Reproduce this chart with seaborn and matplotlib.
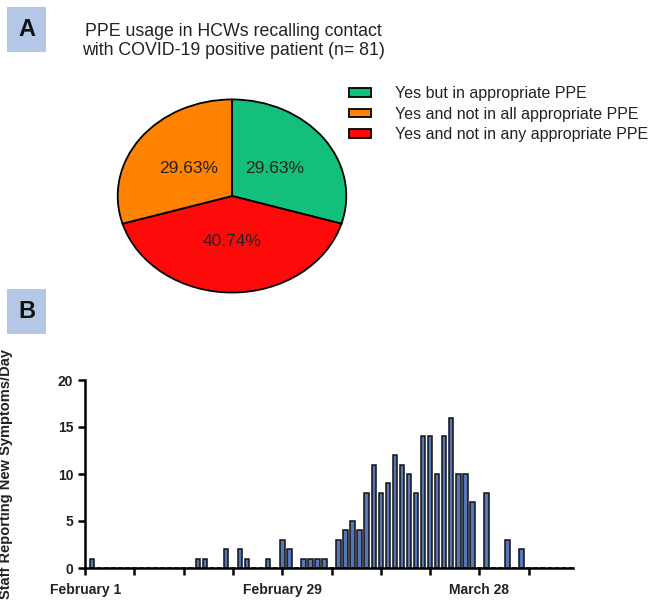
import matplotlib
matplotlib.use("Agg")
import matplotlib.pyplot as plt
from matplotlib.patches import Rectangle, Patch
import seaborn as sns
import pandas as pd

# ---- Panel A data ----
pie_labels = ["Yes but in appropriate PPE",
              "Yes and not in all appropriate PPE",
              "Yes and not in any appropriate PPE"]
pie_counts = [24, 24, 33]          # n = 81
pie_colors = ["#12c07c", "#ff8200", "#ff0a0a"]
pie_order = [0, 2, 1]              # drawing order clockwise from top

# ---- Panel B data (day 0 = February 1, 2020) ----
day_index = list(range(70))
new_cases = [0, 1, 0, 0, 0, 0, 0, 0, 0, 0,
             0, 0, 0, 0, 0, 0, 1, 1, 0, 0,
             2, 0, 2, 1, 0, 0, 1, 0, 3, 2,
             0, 1, 1, 1, 1, 0, 3, 4, 5, 4,
             8, 11, 8, 9, 12, 11, 10, 8, 14, 14,
             10, 14, 16, 10, 10, 7, 0, 8, 0, 0,
             3, 0, 2, 0, 0, 0, 0, 0, 0, 0]
tick_days = [0, 7, 14, 21, 28, 35, 42, 49, 56, 63]
tick_labels = ["February 1", "", "", "", "February 29", "", "", "", "March 28", ""]

sns.set_theme(style="ticks")
plt.rcParams["font.family"] = ["Liberation Sans", "DejaVu Sans"]

W, H = 658, 603
fig = plt.figure(figsize=(W / 100, H / 100), dpi=100)

def fx(px):
    return px / W

def fy(py):
    return 1 - py / H

# ---- Panel labels ----
for (x0, y0, x1, y1, letter) in [(7, 7, 46, 52, "A"), (7, 289, 46, 334, "B")]:
    fig.patches.append(Rectangle((fx(x0), fy(y1)), fx(x1) - fx(x0), fy(y0) - fy(y1),
                                 transform=fig.transFigure, facecolor="#b4c7e7",
                                 edgecolor="none", zorder=0))
    fig.text(fx((x0 + x1) / 2), fy((y0 + y1) / 2), letter, ha="center", va="center",
             fontsize=17, fontweight="bold", color="#111111")

# ---- Title ----
fig.text(fx(233), fy(41), "PPE usage in HCWs recalling contact\nwith COVID-19 positive patient (n= 81)",
         ha="center", va="center", fontsize=12.8, color="#222222", linespacing=1.1)

# ---- Pie ----
r = 1.015
axp = fig.add_axes([fx(118 - 2), fy(292 + 2), (228 + 4) / W, (192 + 4) / H])
wedges, texts, autotexts = axp.pie(
    [pie_counts[i] for i in pie_order],
    colors=[pie_colors[i] for i in pie_order],
    startangle=90, counterclock=False,
    autopct="%.2f%%", pctdistance=0.47,
    wedgeprops=dict(edgecolor="black", linewidth=1.3),
    textprops=dict(fontsize=12.5, color="#222222"),
)
axp.set_aspect("auto")
axp.set_xlim(-r, r)
axp.set_ylim(-r, r)
axp.axis("off")

handles = [Patch(facecolor=pie_colors[i], edgecolor="black", linewidth=1.3) for i in range(3)]
fig.legend(handles, pie_labels, loc="upper left", bbox_to_anchor=(fx(335), fy(72)),
           frameon=False, fontsize=11.5, handlelength=1.35, handleheight=0.45,
           handletextpad=1.5, labelspacing=0.33, labelcolor="#222222")

# ---- Bar chart ----
axb = fig.add_axes([fx(85), fy(568), (573 - 85) / W, (568 - 380) / H])
df = pd.DataFrame({"day": day_index, "count": new_cases})
sns.barplot(data=df, x="day", y="count", native_scale=True, width=0.64,
            color="#5676b8", saturation=1, edgecolor="#111111", linewidth=1.1,
            ax=axb)
axb.set_xlim(-0.02, 69.3)
axb.set_ylim(0, 20)
axb.set_yticks([0, 5, 10, 15, 20])
axb.set_xticks(tick_days)
axb.set_xticklabels(tick_labels, fontweight="bold", fontsize=10)
for lab in axb.get_yticklabels():
    lab.set_fontweight("bold")
    lab.set_fontsize(10)
axb.set_xlabel("")
axb.set_ylabel("Staff Reporting New Symptoms/Day", fontsize=10.5, fontweight="bold",
               color="#222222")
axb.yaxis.set_label_coords(-0.148, 0.5)
sns.despine(ax=axb)
for s in ["left", "bottom"]:
    axb.spines[s].set_linewidth(1.8)
    axb.spines[s].set_color("black")
axb.tick_params(axis="both", length=5, width=1.8, colors="black", labelcolor="#222222")
axb.tick_params(axis="x", pad=6)
axb.set_facecolor("white")

fig.savefig("out.png", dpi=100, facecolor="white")
